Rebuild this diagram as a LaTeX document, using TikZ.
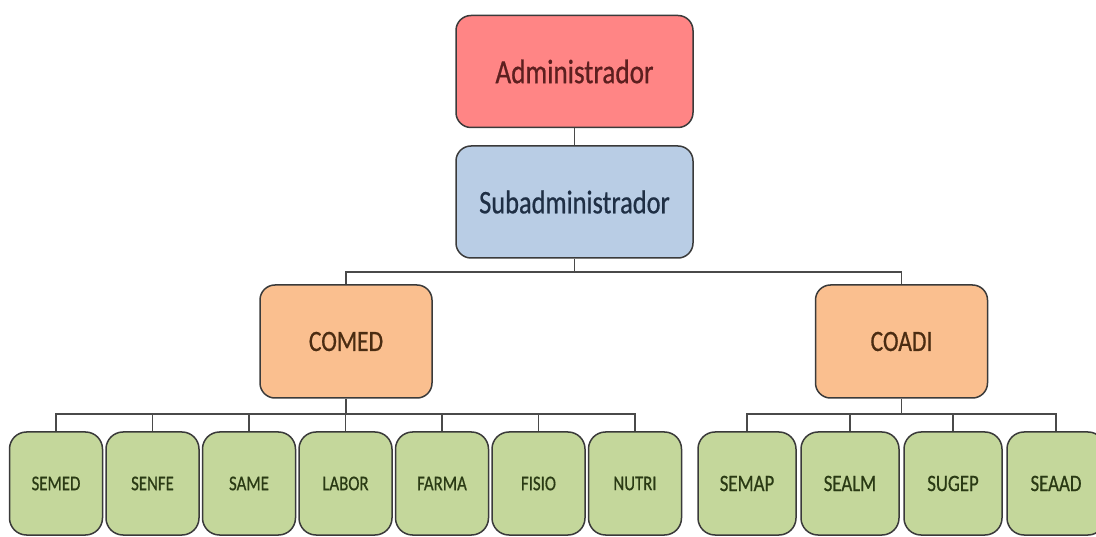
\documentclass[tikz,border=0pt]{standalone}
\usepackage{fontspec}
\setmainfont{Carlito}
\newfontfamily\narrow[FakeStretch=0.8, FakeBold=0.6]{Carlito}
\definecolor{admfill}{HTML}{FF8585}
\definecolor{subfill}{HTML}{B9CDE5}
\definecolor{cofill}{HTML}{FABF8F}
\definecolor{sefill}{HTML}{C4D79B}
\definecolor{admtext}{HTML}{5C1F1F}
\definecolor{subtext}{HTML}{1F2F45}
\definecolor{cotext}{HTML}{4A2C12}
\definecolor{setext}{HTML}{2A3A14}
\definecolor{edge}{HTML}{3A3A3A}
\definecolor{wire}{HTML}{4A4A4A}
\tikzset{
  box/.style={draw=edge, line width=1.5pt, rectangle, rounded corners=15pt,
              inner sep=0pt, align=center},
  topbox/.style={box, minimum width=237pt, minimum height=112pt},
  cobox/.style={box, fill=cofill, text=cotext, minimum width=172pt, minimum height=113pt,
                font=\narrow\fontsize{29.5}{32}\selectfont},
  leftbox/.style={box, fill=sefill, text=setext, minimum width=93pt, minimum height=103pt,
                  rounded corners=17pt, font=\narrow\fontsize{21}{24}\selectfont},
  rightbox/.style={box, fill=sefill, text=setext, minimum width=98pt, minimum height=103pt,
                   rounded corners=17pt, font=\narrow\fontsize{23.5}{26}\selectfont},
  wireline/.style={draw=wire, line width=1.9pt}
}
\begin{document}
\begin{tikzpicture}[x=1pt, y=-1pt]
\useasboundingbox (0,0) rectangle (1096,537);
\clip (0,0) rectangle (1096,537);

% top of the hierarchy
\node[topbox, fill=admfill, text=admtext, font=\narrow\fontsize{34}{37}\selectfont]
  (adm) at (574.5,71.5) {Administrador};
\node[topbox, fill=subfill, text=subtext, font=\narrow\fontsize{33}{36}\selectfont]
  (sub) at (574.5,202) {Subadministrador};

% coordinations
\node[cobox] (comed) at (346,341.5) {COMED};
\node[cobox] (coadi) at (901.5,341.5) {COADI};

% services under COMED
\node[leftbox] (semed) at (56,483.5)    {SEMED};
\node[leftbox] (senfe) at (152.5,483.5) {SENFE};
\node[leftbox] (same)  at (249,483.5)   {SAME};
\node[leftbox] (labor) at (345.5,483.5) {LABOR};
\node[leftbox] (farma) at (442,483.5)   {FARMA};
\node[leftbox] (fisio) at (538.5,483.5) {FISIO};
\node[leftbox] (nutri) at (635,483.5)   {NUTRI};

% services under COADI
\node[rightbox] (semap) at (747,483.5)  {SEMAP};
\node[rightbox] (sealm) at (850,483.5)  {SEALM};
\node[rightbox] (sugep) at (953,483.5)  {SUGEP};
\node[rightbox] (seaad) at (1056,483.5) {SEAAD};

% bus levels
\coordinate (topbus) at (0,272);
\coordinate (lowbus) at (0,414);

% connectors
\draw[wireline] (adm.south) -- (sub.north);
\draw[wireline] (sub.south) -- (sub.south |- topbus);
\draw[wireline] (comed.north) -- (comed.north |- topbus) -- (coadi.north |- topbus) -- (coadi.north);

\draw[wireline] (comed.south) -- (comed.south |- lowbus);
\draw[wireline] (semed.north) -- (semed.north |- lowbus) -- (nutri.north |- lowbus) -- (nutri.north);
\foreach \n in {senfe,same,labor,farma,fisio}
  \draw[wireline] (\n.north) -- (\n.north |- lowbus);

\draw[wireline] (coadi.south) -- (coadi.south |- lowbus);
\draw[wireline] (semap.north) -- (semap.north |- lowbus) -- (seaad.north |- lowbus) -- (seaad.north);
\foreach \n in {sealm,sugep}
  \draw[wireline] (\n.north) -- (\n.north |- lowbus);
\end{tikzpicture}
\end{document}
